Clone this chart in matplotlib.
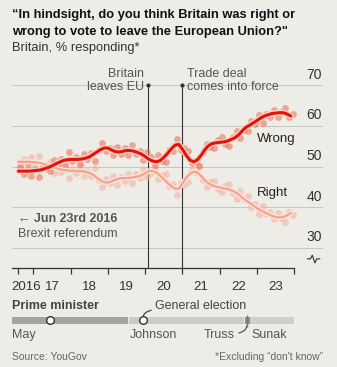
import numpy as np
import matplotlib
matplotlib.use("Agg")
import matplotlib.pyplot as plt

plt.rcParams['font.family'] = ['Liberation Sans', 'DejaVu Sans']

# smoothed lines
line_dates = np.round(np.arange(2016.6, 2023.95, 0.1), 2)
wrong_line = [48.9, 48.9, 48.9, 48.9, 49.0, 49.1, 49.2, 49.5, 49.8, 50.2,
              50.7, 51.1, 51.5, 51.7, 51.8, 51.8, 51.8, 51.9, 52.1, 52.4,
              53.0, 53.6, 54.2, 54.6, 54.6, 54.1, 53.7, 53.6, 53.8, 54.0,
              54.0, 53.8, 53.5, 53.1, 52.5, 51.8, 51.4, 51.2, 51.5, 52.3,
              53.3, 54.4, 55.3, 55.5, 54.3, 52.8, 51.6, 51.2, 51.7, 52.8,
              54.2, 55.2, 55.7, 55.9, 56.0, 56.1, 56.3, 56.7, 57.1, 57.8,
              58.8, 59.7, 60.2, 60.8, 61.4, 62.0, 62.5, 62.8, 63.1, 63.2,
              63.3, 63.3, 63.0, 62.5]
right_line = [51.2, 51.2, 51.2, 51.2, 51.1, 51.0, 50.9, 50.6, 50.3, 50.0,
              49.7, 49.4, 49.2, 49.1, 49.0, 49.0, 48.9, 48.9, 48.8, 48.5,
              48.0, 47.3, 46.6, 46.2, 46.1, 46.4, 46.8, 47.1, 47.2, 47.2,
              47.3, 47.4, 47.6, 47.9, 48.4, 49.0, 48.9, 48.6, 47.8, 46.9,
              46.0, 45.2, 44.6, 44.6, 45.9, 47.3, 48.3, 48.8, 48.6, 47.7,
              46.6, 45.9, 45.4, 45.1, 44.9, 44.7, 44.5, 44.2, 43.8, 43.2,
              42.4, 41.7, 41.1, 40.4, 39.8, 39.2, 38.8, 38.3, 37.9, 37.6,
              37.5, 37.6, 38.0, 38.6]

# individual polls (estimated)
poll_dates = np.round(np.arange(2016.65, 2024.0, 0.1), 2)
wrong_polls = [49.9, 48.3, 50.7, 47.7, 49.4, 47.5, 50.3, 49.7, 48.9, 51.7,
               50.4, 51.9, 50.1, 53.6, 51.3, 52.4, 50.7, 53.2, 51.9, 53.3,
               51.3, 54.1, 55.8, 53.8, 54.7, 52.8, 54.9, 53.2, 54.5, 53.0,
               55.4, 53.1, 53.8, 51.6, 53.5, 52.4, 50.5, 52.9, 51.3, 51.1,
               54.1, 53.8, 56.8, 54.2, 54.7, 53.9, 50.8, 51.4, 50.1, 53.7,
               55.7, 54.9, 54.6, 56.6, 57.2, 55.6, 55.0, 57.3, 58.9, 57.1,
               59.1, 58.7, 61.2, 60.4, 62.8, 60.8, 63.0, 62.2, 64.0, 62.3,
               63.5, 64.4, 62.2, 62.9]
right_polls = [50.2, 51.8, 49.4, 52.4, 50.7, 52.6, 49.8, 50.4, 51.2, 48.5,
               50.0, 48.6, 50.6, 47.2, 49.5, 48.4, 50.0, 47.6, 49.0, 47.6,
               49.7, 46.8, 45.0, 47.0, 46.0, 47.7, 45.6, 47.5, 46.5, 48.2,
               45.9, 48.1, 47.3, 49.4, 47.4, 48.4, 49.8, 46.9, 48.0, 48.1,
               45.2, 45.8, 43.1, 45.9, 45.5, 46.2, 49.1, 48.6, 50.2, 46.8,
               45.1, 46.2, 46.5, 44.4, 43.7, 45.2, 45.8, 43.6, 42.0, 43.9,
               42.1, 42.7, 40.1, 40.8, 38.4, 40.4, 38.3, 38.9, 37.0, 38.5,
               37.3, 36.5, 38.8, 38.2]

gridvals = [30, 40, 50, 60, 70]
year_ticks = [2016.6, 2017, 2018, 2019, 2020, 2021, 2022, 2023, 2024]
year_labels = ['2016', '17', '18', '19', '20', '21', '22', '23']
events = [(2020.08, 'Britain\nleaves EU', 'right'), (2021.0, 'Trade deal\ncomes into force', 'left')]

pm_names = ['May', 'Johnson', 'Truss', 'Sunak']
pm_start = [2016.43, 2019.56, 2022.68, 2022.82]
pm_end = [2019.56, 2022.68, 2022.82, 2024.0]
elections = [2017.44, 2019.95]

W, H = 337, 367
BG = '#edece6'
fig = plt.figure(figsize=(W / 100, H / 100), dpi=100, facecolor=BG)

def fx(px):
    return px / W

def fy(py):
    return 1 - py / H

ax = fig.add_axes([fx(12), fy(268), fx(311), 208 / H])
ax.set_facecolor(BG)
xlim = (2016.429, 2024.767)
ax.set_xlim(*xlim)
ax.set_ylim(25.05, 76.28)
for s in ['top', 'right', 'left']:
    ax.spines[s].set_visible(False)
ax.spines['bottom'].set_bounds(2016.429, 2024.0)
ax.spines['bottom'].set_color('#333333')
ax.spines['bottom'].set_linewidth(0.9)
ax.set_yticks([])
ax.set_xticks(year_ticks)
ax.set_xticklabels([])
ax.tick_params(axis='x', which='major', length=4.5, width=0.9, color='#333333', direction='out')
mids = [(year_ticks[i] + year_ticks[i + 1]) / 2 for i in range(len(year_labels))]
ax.set_xticks(mids, minor=True)
ax.set_xticklabels(year_labels, minor=True, fontsize=9.5, color='#333333')
ax.tick_params(axis='x', which='minor', length=0, pad=9)

ax.hlines(gridvals, xlim[0], xlim[1], color='#c6c6be', lw=0.7, zorder=0)
for g in gridvals:
    ax.text(2024.74, g + 0.9, str(g), ha='right', va='bottom', fontsize=10, color='#333333')

# axis break symbol
bx = [2024.35, 2024.43, 2024.48, 2024.55, 2024.60, 2024.68]
by = [27.3, 27.3, 28.2, 26.3, 27.3, 27.3]
ax.plot(bx, by, color='#333333', lw=0.8, clip_on=False)

for x, label, ha in events:
    ax.vlines(x, 25.05, 70, color='#333333', lw=0.8, zorder=1)
    ax.plot(x, 70, 'o', ms=2, color='#333333', zorder=1)
    tx = x - 0.12 if ha == 'right' else x + 0.12
    ax.text(tx, 74.4, label, ha=ha, va='top', fontsize=9, color='#555555', linespacing=1.1)

ax.scatter(poll_dates, right_polls, s=24, color='#f6b3a2', alpha=0.6, lw=0, zorder=2)
ax.scatter(poll_dates, wrong_polls, s=24, color='#ec6a50', alpha=0.55, lw=0, zorder=2)
ax.plot(line_dates, right_line, color='#fbe2da', lw=3.6, solid_capstyle='round', zorder=3)
ax.plot(line_dates, right_line, color='#f4a28e', lw=1.6, solid_capstyle='round', zorder=3)
ax.plot(line_dates, wrong_line, color='#f8cfc4', lw=4.2, solid_capstyle='round', zorder=4)
ax.plot(line_dates, wrong_line, color='#e3120b', lw=2.2, solid_capstyle='round', zorder=4)

ax.text(2023.0, 56.8, 'Wrong', ha='left', va='center', fontsize=9.5, color='#222222')
ax.text(2023.0, 43.6, 'Right', ha='left', va='center', fontsize=9.5, color='#222222')
ax.text(2016.6, 37.1, '\u2190 Jun 23rd 2016', ha='left', va='center', fontsize=9,
        fontweight='bold', color='#555555')
ax.text(2016.6, 33.4, 'Brexit referendum', ha='left', va='center', fontsize=9, color='#555555')

# prime minister strip (y in pixels)
ax2 = fig.add_axes([fx(12), fy(345), fx(311), 50 / H])
ax2.set_xlim(*xlim)
ax2.set_ylim(345, 295)
ax2.axis('off')
pm_colors = ['#a4a49f', '#cbcbc5', '#8d8d88', '#cfcfc9']
for name, s0, s1, c in zip(pm_names, pm_start, pm_end, pm_colors):
    gap = 0.03 if name in ('May', 'Johnson') else 0.0
    ax2.fill_between([s0, s1 - gap], 317, 323.5, color=c, lw=0)
ax2.vlines(pm_start[2] + 0.04, 315, 327, color='#777772', lw=1)
ax2.plot(elections, [320, 320], 'o', ms=5.5, mfc='white', mec='#333333', mew=1, zorder=5)
ax2.text(2016.429, 306, 'Prime minister', ha='left', va='center', fontsize=9,
         fontweight='bold', color='#444444')
ax2.annotate('General election', xy=(elections[1], 316.5), xytext=(2020.27, 306),
             ha='left', va='center', fontsize=9, color='#444444',
             arrowprops=dict(arrowstyle='-', color='#444444', lw=0.9,
                             connectionstyle='angle3,angleA=0,angleB=90',
                             shrinkA=1, shrinkB=0))
ax2.text(2016.429, 335, 'May', ha='left', va='center', fontsize=9, color='#555555')
ax2.text(pm_start[1] + 0.02, 335, 'Johnson', ha='left', va='center', fontsize=9, color='#555555')
ax2.annotate('Truss', xy=(pm_start[2] + 0.04, 326), xytext=(2022.4, 335),
             ha='right', va='center', fontsize=9, color='#555555',
             arrowprops=dict(arrowstyle='-', color='#555555', lw=0.9,
                             connectionstyle='angle3,angleA=0,angleB=90',
                             shrinkA=1, shrinkB=0))
ax2.text(pm_start[3] + 0.03, 335, 'Sunak', ha='left', va='center', fontsize=9, color='#555555')

fig.text(fx(12), fy(15), '\u201cIn hindsight, do you think Britain was right or',
         ha='left', va='center', fontsize=9.3, fontweight='bold', color='#111111')
fig.text(fx(12), fy(32), 'wrong to vote to leave the European Union?"',
         ha='left', va='center', fontsize=9.3, fontweight='bold', color='#111111')
fig.text(fx(12), fy(47.5), 'Britain, % responding*', ha='left', va='center',
         fontsize=9.3, color='#333333')
fig.text(fx(12), fy(357), 'Source: YouGov', ha='left', va='center', fontsize=7.5, color='#666666')
fig.text(fx(323), fy(357), '*Excluding \u201cdon\'t know\u201d', ha='right', va='center',
         fontsize=7.5, color='#666666')

fig.savefig('out.png', dpi=100, facecolor=BG)
